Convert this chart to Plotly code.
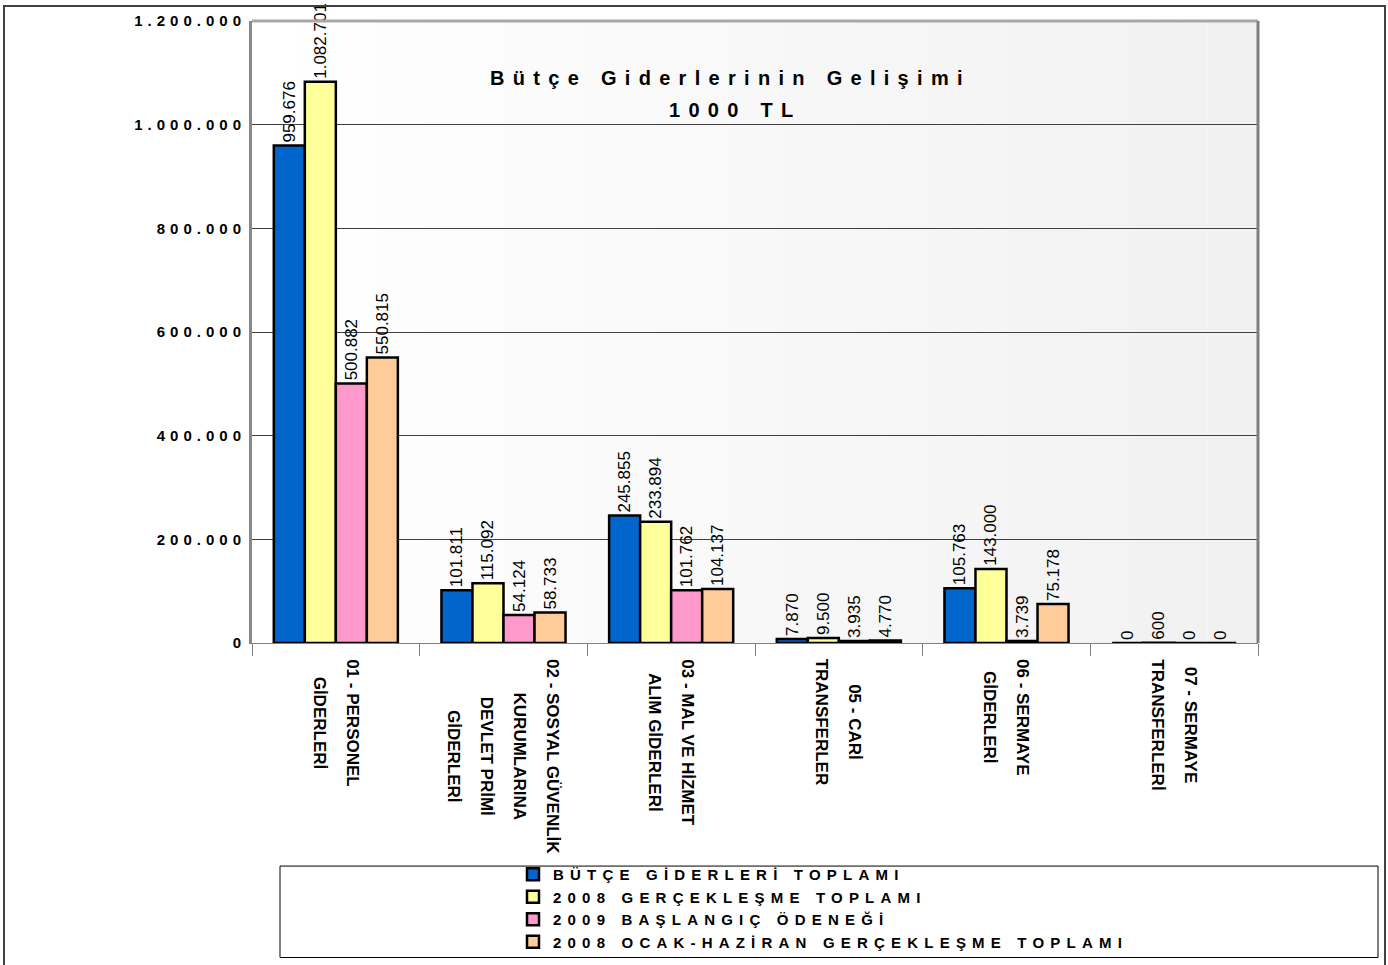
import plotly.graph_objects as go

# ---------------- data ----------------
category_lines = [
    ["01 - PERSONEL", "GİDERLERİ"],
    ["02 - SOSYAL GÜVENLİK", "KURUMLARINA", "DEVLET PRİMİ", "GİDERLERİ"],
    ["03 - MAL VE HİZMET", "ALIM GİDERLERİ"],
    ["05 - CARİ", "TRANSFERLER"],
    ["06 - SERMAYE", "GİDERLERİ"],
    ["07 - SERMAYE", "TRANSFERLERİ"],
]
categories = [" ".join(lines) for lines in category_lines]
series_names = [
    "BÜTÇE GİDERLERİ TOPLAMI",
    "2008 GERÇEKLEŞME TOPLAMI",
    "2009 BAŞLANGIÇ ÖDENEĞİ",
    "2008 OCAK-HAZİRAN GERÇEKLEŞME TOPLAMI",
]
butce_giderleri = [959676, 101811, 245855, 7870, 105763, 0]
gerceklesme_2008 = [1082701, 115092, 233894, 9500, 143000, 600]
baslangic_2009 = [500882, 54124, 101762, 3935, 3739, 0]
ocak_haziran_2008 = [550815, 58733, 104137, 4770, 75178, 0]
series_values = [butce_giderleri, gerceklesme_2008, baslangic_2009, ocak_haziran_2008]

y_tickvals = [0, 200000, 400000, 600000, 800000, 1000000, 1200000]
y_ticklabels = ["0", "200.000", "400.000", "600.000", "800.000", "1.000.000", "1.200.000"]

title_line1 = "Bütçe Giderlerinin Gelişimi"
title_line2 = "1000 TL"

# ---------------- style ----------------
colors = ["#0066CC", "#FFFF99", "#FF99CC", "#FFCC99"]
FONT = "Liberation Sans, Arial, sans-serif"
S = 973 / 965          # vertical compensation
W, H = 1388, 973
ML, MR = 252, 130
PLOT_TOP = 19 * S
PLOT_BOTTOM = 638 * S
MT = PLOT_TOP
MB = H - PLOT_BOTTOM
PW = W - ML - MR
PH = PLOT_BOTTOM - PLOT_TOP


def px_x(x):
    return (x - ML) / PW


def px_y(y):
    return (PLOT_BOTTOM - y * S) / PH


def spaced(text, ls):
    return f'<span style="letter-spacing:{ls}px">{text}</span>'


fig = go.Figure()
for name, vals, col in zip(series_names, series_values, colors):
    fig.add_trace(go.Bar(
        x=categories, y=vals, name=spaced(name, 6.2),
        marker=dict(color=col, line=dict(color="#000000", width=2.5)),
        texttemplate="%{y:,.0f}", textposition="outside", textangle=-90,
        textfont=dict(family=FONT, size=17, color="#000000"),
        constraintext="none", cliponaxis=False,
    ))

shapes = []
# gradient plot background
N = 40
for i in range(N):
    t = i / (N - 1)
    v = int(round(255 - 14 * t))
    shapes.append(dict(type="rect", xref="paper", yref="paper",
                       x0=i / N, x1=(i + 1) / N, y0=0, y1=1,
                       fillcolor=f"rgb({v},{v},{v})", line=dict(width=0),
                       layer="below"))
# top and right frame of plot area
shapes.append(dict(type="line", xref="paper", yref="paper", x0=0, x1=1, y0=1, y1=1,
                   line=dict(color="#a8a8a8", width=3)))
shapes.append(dict(type="line", xref="paper", yref="paper", x0=1, x1=1, y0=0, y1=1,
                   line=dict(color="#808080", width=3)))
# legend box
shapes.append(dict(type="rect", xref="paper", yref="paper",
                   x0=px_x(280), x1=px_x(1378), y0=px_y(951), y1=px_y(860),
                   line=dict(color="#000000", width=1), fillcolor="rgba(0,0,0,0)"))
# outer border
shapes.append(dict(type="rect", xref="paper", yref="paper",
                   x0=px_x(4), x1=px_x(1385), y0=px_y(963), y1=px_y(4),
                   line=dict(color="#404040", width=2), fillcolor="rgba(0,0,0,0)"))

annotations = [
    dict(text=spaced(title_line1, 8.3), xref="paper", yref="paper",
         x=px_x(730), y=px_y(78), yshift=15, showarrow=False,
         font=dict(family=FONT, size=20, color="#000000", weight="bold")),
    dict(text=spaced(title_line2, 8.3), xref="paper", yref="paper",
         x=px_x(735), y=px_y(110), yshift=15, showarrow=False,
         font=dict(family=FONT, size=20, color="#000000", weight="bold")),
]
for i, lines in enumerate(category_lines):
    txt = "<br>".join(f'<span style="font-size:17px">{ln}</span>' for ln in lines)
    annotations.append(dict(
        text=txt, x=i, xref="x", y=0, yref="paper", yanchor="top", xanchor="center",
        yshift=-14, textangle=90, align="center", showarrow=False,
        font=dict(family=FONT, size=25.4, color="#000000", weight="bold")))

fig.update_layout(
    width=W, height=H,
    margin=dict(l=ML, r=MR, t=MT, b=MB, pad=0),
    paper_bgcolor="#ffffff", plot_bgcolor="#ffffff",
    barmode="group", bargap=0.26, bargroupgap=0,
    separators=",.",
    font=dict(family=FONT, color="#000000"),
    showlegend=True,
    legend=dict(x=px_x(513), y=px_y(852), xanchor="left", yanchor="top",
                bgcolor="rgba(0,0,0,0)", borderwidth=0,
                font=dict(family=FONT, size=15, color="#000000", weight="bold"),
                tracegroupgap=0),
    shapes=shapes, annotations=annotations,
    xaxis=dict(type="category", range=[-0.5, len(categories) - 0.5],
               showline=True, linecolor="#808080", linewidth=1,
               ticks="outside", ticklen=12, tickcolor="#808080", tickwidth=1,
               tickson="boundaries", showticklabels=False, showgrid=False,
               zeroline=False),
    yaxis=dict(range=[0, 1200000], tickvals=y_tickvals,
               ticktext=[spaced(t, 5.0) for t in y_ticklabels],
               tickfont=dict(family=FONT, size=15, color="#000000", weight="bold"),
               showline=True, linecolor="#888888", linewidth=3,
               showgrid=True, gridcolor="#404040", gridwidth=1,
               zeroline=False, ticks="", ticklabelstandoff=0),
)

post = (
    "document.documentElement.style.margin='0';"
    "document.body.style.margin='0';"
    "document.body.style.overflow='hidden';"
    "document.documentElement.style.overflow='hidden';"
    "var gd=document.querySelector('.plotly-graph-div');"
    "gd.style.position='fixed';gd.style.left='0px';gd.style.top='0px';"
)
fig.write_html("out.html", post_script=post, config={"displayModeBar": False})
